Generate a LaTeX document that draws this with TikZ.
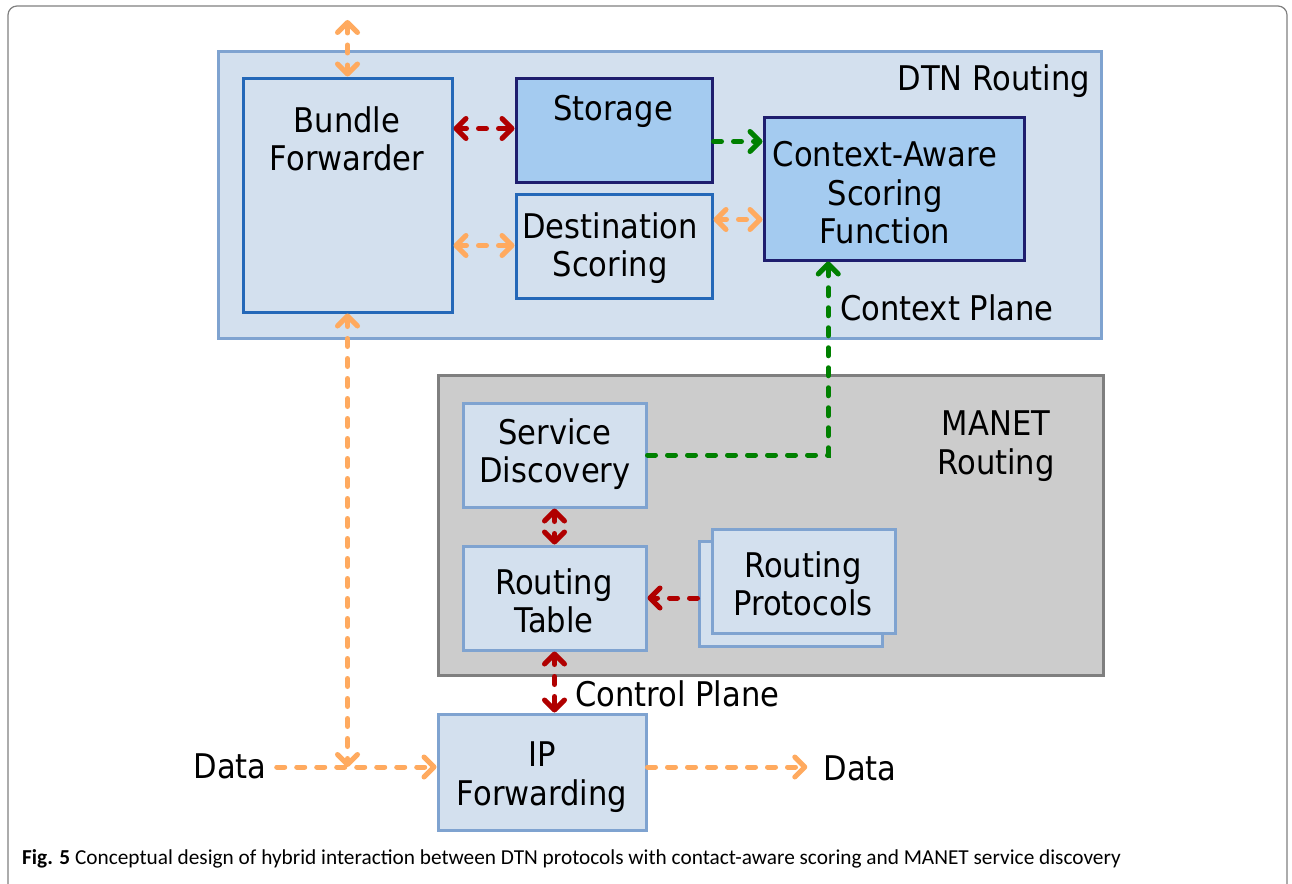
\documentclass[tikz,border=0pt]{standalone}
\usepackage{fontspec}
\setmainfont{DejaVu Sans}[FakeStretch=0.9]
\newfontfamily\capfont{Carlito}
\usetikzlibrary{arrows.meta,calc}
\definecolor{lblue}{HTML}{D3E0EE}
\definecolor{mblue}{HTML}{7FA3D0}
\definecolor{dblue}{HTML}{2468B8}
\definecolor{sblue}{HTML}{A4CBF0}
\definecolor{navy}{HTML}{1E1E6E}
\definecolor{mgray}{HTML}{CCCCCC}
\definecolor{bgray}{HTML}{7F7F7F}
\definecolor{orangeA}{HTML}{FFAA5F}
\definecolor{redA}{HTML}{B00000}
\definecolor{greenA}{HTML}{008000}
\tikzset{
  box/.style={draw, line width=3pt, inner sep=0pt},
  lbox/.style={box, draw=mblue, fill=lblue},
  txt/.style={align=center, inner sep=0pt, font=\fontsize{34}{38.5}\selectfont},
  flow/.style={line width=5pt, dash pattern=on 8pt off 12pt, line cap=round},
  oflow/.style={flow, draw=orangeA},
  rflow/.style={flow, draw=redA},
  gflow/.style={flow, draw=greenA},
  >={Straight Barb[length=10pt,width=20pt,round]}
}
\begin{document}
\begin{tikzpicture}[x=1pt,y=-1pt]
\useasboundingbox (0,0) rectangle (1292,883);
\fill[white] (0,0) rectangle (1292,883);
\draw[gray, line width=1.2pt, rounded corners=9pt] (8,6) rectangle (1287,920);

% DTN routing
\node[lbox, minimum width=883pt, minimum height=286pt] (dtn) at (659.5,195) {};
\node[box, draw=dblue, fill=lblue, minimum width=209pt, minimum height=234pt] (bf) at (347.5,195) {};
\node[box, draw=navy, fill=sblue, minimum width=196pt, minimum height=104pt] (st) at (614,130) {};
\node[box, draw=dblue, fill=lblue, minimum width=196pt, minimum height=104pt] (ds) at (614,246) {};
\node[box, draw=navy, fill=sblue, minimum width=260pt, minimum height=143pt] (casf) at (894,188.5) {};

\node[txt, anchor=east] (dtnt) at (1090,81) {DTN Routing};
\node[txt] (bft) at (347,139) {Bundle\\Forwarder};
\node[txt] (stt) at (613,111) {Storage};
\node[txt] (dst) at (610,248) {Destination\\Scoring};
\node[txt] (casft) at (885,193) {Context-Aware\\Scoring\\Function};
\node[txt, anchor=west] (cpt) at (840,308) {Context Plane};

% MANET routing
\node[box, draw=bgray, fill=mgray, minimum width=665pt, minimum height=300pt] (manet) at (770.5,525) {};
\node[lbox, minimum width=183pt, minimum height=104pt] (sd) at (554.5,455) {};
\node[lbox, minimum width=183pt, minimum height=104pt] (rt) at (554.5,598) {};
\node[lbox, minimum width=183pt, minimum height=105pt] (rpb) at (790.5,593.5) {};
\node[lbox, minimum width=183pt, minimum height=104pt] (rpf) at (803.5,581) {};

\node[txt] (manett) at (996,446) {MANET\\Routing};
\node[txt] (sdt) at (555,454) {Service\\Discovery};
\node[txt] (rtt) at (554,601) {Routing\\Table};
\node[txt] (rpt) at (803,584) {Routing\\Protocols};

% IP forwarding
\node[lbox, minimum width=208pt, minimum height=116pt] (ip) at (542,772) {};
\node[txt] (ipt) at (542,777) {IP\\Forwarding};
\node[txt, anchor=west] (ctlt) at (575,694) {Control Plane};
\node[txt] (dataL) at (230,766) {Data};
\node[txt] (dataR) at (860,768) {Data};

% connectors
\coordinate (topend) at (347.5,20);
\coordinate (junc) at (347.5,767);
\coordinate (cin) at ($(casf.south west)!0.25!(casf.south east)$);
\draw[oflow, <->] (topend) -- (bf.north);
\draw[rflow, <->] ($(bf.north east)+(0,52)$) -- ($(st.north west)+(0,52)$);
\draw[oflow, <->] ($(bf.north east)+(0,169)$) -- ($(ds.north west)+(0,53)$);
\draw[gflow, ->] ($(st.north east)+(0,65)$) -- ($(casf.north west)+(0,26)$);
\draw[oflow, <->] ($(ds.north east)+(0,27)$) -- ($(casf.north west)+(0,104)$);
\draw[gflow, ->] (sd.east) -- (sd.east -| cin) -- (cin);
\draw[rflow, <->] (sd.south) -- (rt.north);
\draw[rflow, ->] (rpb.west |- rt.east) -- (rt.east);
\draw[rflow, <->] (rt.south) -- (rt.south |- ip.north);
\draw[oflow, <->] (bf.south) -- (junc);
\draw[oflow, ->] ($(dataL.east)+(10,1)$) -- (ip.west |- junc);
\draw[oflow, ->] (ip.east |- junc) -- ($(dataR.west)+(-16,-1)$);

% caption
\node[anchor=west, inner sep=0pt] (cap) at (22,859) {\capfont\fontsize{21.3}{25}\selectfont\textbf{Fig. 5} Conceptual design of hybrid interaction between DTN protocols with contact-aware scoring and MANET service discovery};
\end{tikzpicture}
\end{document}
